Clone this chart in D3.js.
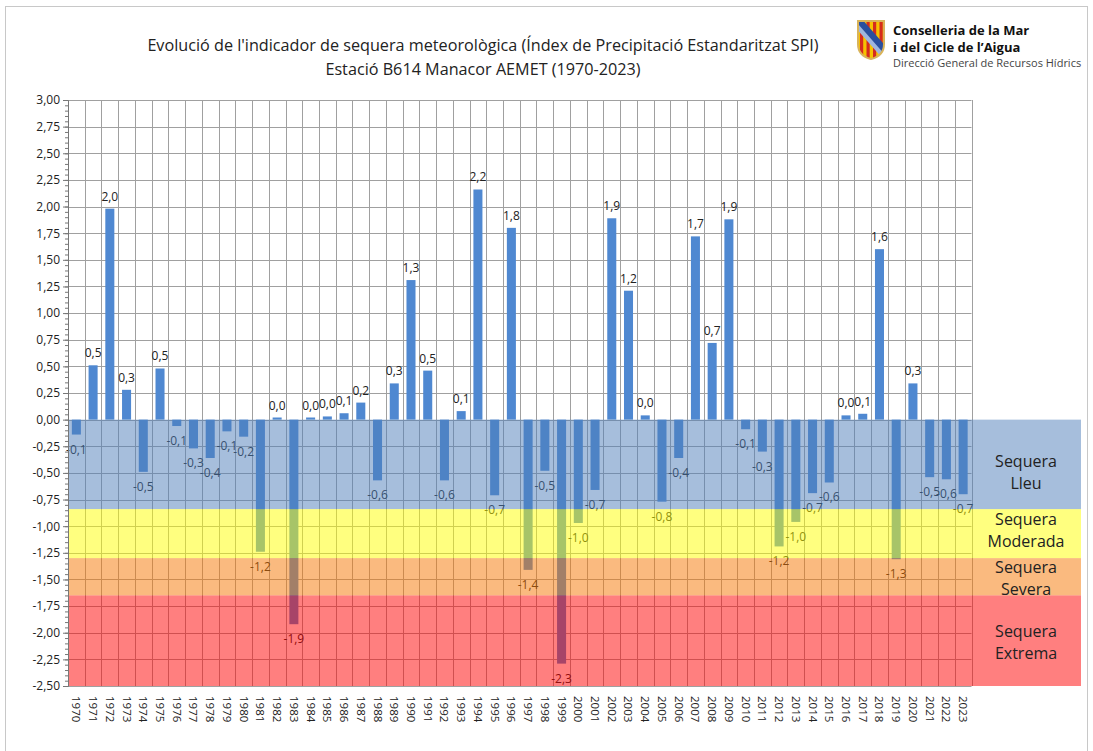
<!DOCTYPE html>
<html>
<head>
<meta charset="utf-8">
<script src="https://cdn.jsdelivr.net/npm/d3@7"></script>
<style>
  body { margin: 0; background: #fff; }
  svg { font-family: "Open Sans", "Noto Sans", sans-serif; }
</style>
</head>
<body>
<div class="graph"></div>
<script>
// SPI per year, Manacor B614
const years = d3.range(1970, 2024);
const spi = [
  -0.14, 0.51, 1.98, 0.28, -0.49, 0.48, -0.06, -0.27, -0.36, -0.11,
  -0.16, -1.24, 0.02, -1.92, 0.02, 0.03, 0.06, 0.16, -0.57, 0.34,
  1.31, 0.46, -0.57, 0.08, 2.16, -0.71, 1.80, -1.41, -0.48, -2.29,
  -0.97, -0.66, 1.89, 1.21, 0.04, -0.77, -0.36, 1.72, 0.72, 1.88,
  -0.09, -0.30, -1.19, -0.96, -0.69, -0.59, 0.04, 0.055, 1.60, -1.31,
  0.34, -0.54, -0.56, -0.70
];
const yTicks = d3.range(-2.5, 3.01, 0.25);

// drought classes (upper, lower limit)
const bandNames = [["Sequera", "Lleu"], ["Sequera", "Moderada"], ["Sequera", "Severa"], ["Sequera", "Extrema"]];
const bandTop = [0, -0.84, -1.30, -1.65];
const bandBottom = [-0.84, -1.30, -1.65, -2.5];
const bandColor = ["#4d7db9", "#ffff00", "#f57500", "#ff0000"];

const title1 = "Evolució de l'indicador de sequera meteorològica (Índex de Precipitació Estandaritzat SPI)";
const title2 = "Estació B614 Manacor AEMET (1970-2023)";

const W = 1093, H = 751;
const margin = { top: 100, right: 121.5, bottom: 65, left: 68 };
const width = W - margin.left - margin.right,
  height = H - margin.top - margin.bottom;

const loc = d3.formatLocale({ decimal: ",", thousands: ".", grouping: [3], currency: ["", "€"], minus: "-" });
const f2 = loc.format(".2f"), f1 = loc.format(".1f");

const svg = d3.select(".graph").append("svg")
  .attr("width", W)
  .attr("height", H);

// outer frame
svg.append("rect")
  .attr("x", 5.5).attr("y", 6.5)
  .attr("width", 1082).attr("height", 760)
  .attr("fill", "none").attr("stroke", "#c8c8c8");

// titles
svg.append("text")
  .attr("x", 483).attr("y", 51)
  .attr("text-anchor", "middle")
  .attr("font-size", 16.2).attr("fill", "#222")
  .text(title1);
svg.append("text")
  .attr("x", 483).attr("y", 75)
  .attr("text-anchor", "middle")
  .attr("font-size", 16.2).attr("fill", "#222")
  .text(title2);

// logo
const logo = svg.append("g").attr("transform", "translate(857,20)");
const shield = "M1,1 H27 V24 Q27,36 14,39 Q1,36 1,24 Z";
logo.append("clipPath").attr("id", "shieldclip").append("path").attr("d", shield);
const lg = logo.append("g").attr("clip-path", "url(#shieldclip)");
lg.append("rect").attr("width", 28).attr("height", 40).attr("fill", "#f6c200");
for (let i = 0; i < 4; i++) {
  lg.append("rect").attr("x", 3 + i * 6.5).attr("y", 0).attr("width", 3.2).attr("height", 40).attr("fill", "#d52b1e");
}
lg.append("path").attr("d", "M-2,4 L4,-2 L32,30 L26,36 Z").attr("fill", "#2a4f9e");
lg.append("path").attr("d", "M-2,7 L1,4 L29,36 L26,39 Z").attr("fill", "#9fb6df");
logo.append("path").attr("d", shield).attr("fill", "none").attr("stroke", "#d9b45a").attr("stroke-width", 2);

svg.append("text").attr("x", 893).attr("y", 35)
  .attr("font-size", 13).attr("font-weight", "bold").attr("fill", "#111")
  .text("Conselleria de la Mar");
svg.append("text").attr("x", 893).attr("y", 52)
  .attr("font-size", 13).attr("font-weight", "bold").attr("fill", "#111")
  .text("i del Cicle de l\u2019Aigua");
svg.append("text").attr("x", 893).attr("y", 67)
  .attr("font-size", 11).attr("fill", "#444")
  .text("Direcció General de Recursos Hídrics");

const g = svg.append("g")
  .attr("transform", "translate(" + margin.left + "," + margin.top + ")");

const x = d3.scaleBand()
  .domain(years)
  .range([0, width])
  .paddingInner(0.46)
  .paddingOuter(0.23);

const y = d3.scaleLinear()
  .domain([-2.5, 3])
  .range([height, 0]);

// grid
g.append("g").selectAll("line")
  .data(yTicks)
  .enter().append("line")
  .attr("x1", 0).attr("x2", width)
  .attr("y1", d => Math.round(y(d)) + 0.5).attr("y2", d => Math.round(y(d)) + 0.5)
  .attr("stroke", "#a0a0a0");
g.append("g").selectAll("line")
  .data(d3.range(years.length + 1))
  .enter().append("line")
  .attr("x1", i => Math.round(i * x.step()) + 0.5).attr("x2", i => Math.round(i * x.step()) + 0.5)
  .attr("y1", 0).attr("y2", height)
  .attr("stroke", "#a0a0a0");

// bars
g.selectAll(".bar")
  .data(spi)
  .enter().append("rect")
  .attr("class", "bar")
  .attr("x", (d, i) => x(years[i]))
  .attr("width", x.bandwidth())
  .attr("y", d => y(Math.max(d, 0)))
  .attr("height", d => Math.abs(y(d) - y(0)))
  .attr("fill", "#4f88d1");

// value labels
g.selectAll(".lbl")
  .data(spi)
  .enter().append("text")
  .attr("class", "lbl")
  .attr("x", (d, i) => x(years[i]) + x.bandwidth() / 2)
  .attr("y", d => d >= 0 ? y(d) - 8 : y(d) + 19)
  .attr("text-anchor", "middle")
  .attr("font-size", 12).attr("fill", "#222")
  .text(d => f1(d));

// drought bands (translucent, over the bars)
const bandRight = 1081 - margin.left;
const bandMid = 1026 - margin.left;
const nudge = [7, -5, 0, 0]; // label shift inside each band
const bands = g.append("g");
bandTop.forEach((t, i) => {
  bands.append("rect")
    .attr("x", 0)
    .attr("y", y(t))
    .attr("width", bandRight)
    .attr("height", y(bandBottom[i]) - y(t))
    .attr("fill", bandColor[i])
    .attr("fill-opacity", 0.5);
  const cy = (y(t) + y(bandBottom[i])) / 2 + nudge[i];
  bands.append("text")
    .attr("x", bandMid)
    .attr("y", cy - 4)
    .attr("text-anchor", "middle")
    .attr("font-size", 16).attr("fill", "#222")
    .text(bandNames[i][0]);
  bands.append("text")
    .attr("x", bandMid)
    .attr("y", cy + 18)
    .attr("text-anchor", "middle")
    .attr("font-size", 16).attr("fill", "#222")
    .text(bandNames[i][1]);
});

// y axis
g.append("g")
  .call(d3.axisLeft(y).tickValues(d3.range(-2.5, 3.001, 0.05)).tickSize(3).tickFormat(""))
  .call(a => a.selectAll("line").attr("stroke", "#777"))
  .call(a => a.select(".domain").remove());
g.append("g")
  .call(d3.axisLeft(y).tickValues(yTicks).tickSize(5).tickPadding(3).tickFormat(d => f2(d)))
  .call(a => a.selectAll("text").attr("font-size", 12).attr("fill", "#222").attr("font-family", "Open Sans"))
  .call(a => a.selectAll("line").attr("stroke", "#777"))
  .call(a => a.select(".domain").attr("stroke", "#777"));

// x axis labels
g.append("g")
  .attr("transform", "translate(0," + height + ")")
  .call(d3.axisBottom(x).tickSize(0).tickPadding(0))
  .call(a => a.select(".domain").remove())
  .selectAll("text")
  .attr("font-size", 11.5).attr("fill", "#222").attr("font-family", "Open Sans")
  .attr("transform", "rotate(90)")
  .attr("x", 10).attr("y", 0).attr("dy", "0.35em")
  .style("text-anchor", "start");
</script>
</body>
</html>
